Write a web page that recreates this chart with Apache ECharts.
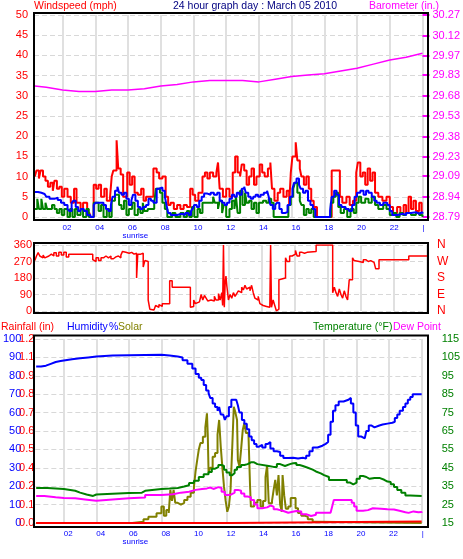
<!DOCTYPE html>
<html><head><meta charset="utf-8">
<script src="https://cdn.jsdelivr.net/npm/echarts@6/dist/echarts.min.js"></script>
<style>html,body{margin:0;padding:0;background:#fff}#c{width:463px;height:559px}</style>
</head><body><div id="c"></div>
<script>
// ---------- tick labels ----------
const hourTicks = [2,4,6,8,10,12,14,16,18,20,22,24];
const hourLabels = ['02','04','06','08','10','12','14','16','18','20','22','|'];
const baroTicks = [28.79,28.94,29.09,29.23,29.38,29.53,29.68,29.83,29.97,30.12,30.27];
const compassLabels = ['N','E','S','W','N'];
const rainTickValues = [0,0.12,0.24,0.36,0.48,0.6,0.72,0.84,0.96,1.08,1.2];
const rainLabels = ['0.0','0.1','0.2','0.4','0.5','0.6','0.7','0.8','0.9','1.1','1.2'];
const tempTicks = [15,25,35,45,55,65,75,85,95,105,115];
const sunriseHour = 6.45;

// ---------- data: [hour, value] ----------
const windGust = [[0.3,10],[0.4,11.5],[0.55,9.5],[0.65,11.5],[0.8,10],[0.95,9],[1.1,7.5],[1.25,8.5],[1.4,6.5],[1.5,9],[1.65,7],[1.8,7.5],[1.95,5],[2.1,7],[2.3,5],[2.5,3.5],[2.7,7],[2.85,3.5],[3.1,2],[3.25,3.5],[3.5,1],[3.65,0],[3.9,8],[4.05,7],[4.2,8],[4.35,5],[4.55,7],[4.7,4],[4.9,5],[5.0,10],[5.1,11.5],[5.3,19],[5.4,12],[5.55,10.5],[5.7,5],[5.95,11],[6.1,8],[6.25,10],[6.4,6],[6.6,5.5],[6.8,7],[6.95,4],[7.1,5],[7.35,5],[7.55,12],[7.75,11],[7.9,9.5],[8.1,10],[8.3,5],[8.45,3],[8.6,3.5],[8.8,2],[9.0,3],[9.2,2],[9.4,3],[9.6,2.5],[9.8,7],[9.95,5.5],[10.1,4],[10.3,6],[10.55,10],[10.7,11],[10.85,9.5],[11.0,11],[11.2,10],[11.4,11],[11.5,13.5],[11.6,7],[11.8,5],[12.0,7],[12.2,5],[12.4,11],[12.55,15],[12.7,11],[12.85,10],[12.95,13],[13.1,11.5],[13.25,8],[13.4,10],[13.55,12],[13.7,8],[13.85,10],[14.05,13],[14.2,11],[14.35,10],[14.55,12],[14.7,13.5],[14.8,7],[14.95,4],[15.15,6],[15.3,7],[15.5,5],[15.7,6.5],[15.85,3],[15.95,11],[16.05,15],[16.25,18.5],[16.35,14],[16.5,12],[16.6,10],[16.75,8],[16.9,10],[17.05,7],[17.2,4],[17.35,2.5],[17.55,0],[18.45,11.5],[18.95,5],[19.1,3.5],[19.35,5],[19.55,3],[19.75,4],[19.95,11],[20.05,13.5],[20.2,10],[20.35,11],[20.5,8],[20.65,12],[20.8,9],[20.95,11],[21.1,6],[21.3,5],[21.55,4],[21.8,5],[22.0,2.5],[22.2,1],[22.45,2.5],[22.65,1],[22.85,3],[23.0,1],[23.15,5],[23.3,2],[23.45,4],[23.6,1.5],[23.8,3.5],[23.95,1],[24,1]];
const windAvg = [[0.3,6.2],[0.5,6],[0.7,5.7],[0.9,5.5],[1.0,5],[1.2,4.5],[1.5,4.8],[1.7,4.2],[1.9,3.5],[2.1,3],[2.3,2],[2.4,1.5],[2.55,3.5],[2.65,4],[2.8,2.5],[2.95,1.5],[3.1,2],[3.3,1.5],[3.5,0.5],[3.7,0],[3.9,3],[4.0,3.5],[4.3,3.5],[4.5,3],[4.65,2],[4.8,1.5],[4.95,3],[5.05,5],[5.2,6.5],[5.35,7.5],[5.45,6],[5.6,5.5],[5.75,6],[5.9,4.5],[6.05,3],[6.2,4],[6.3,5.5],[6.45,4],[6.6,2.5],[6.75,2],[6.9,2.5],[7.1,3],[7.25,4.5],[7.4,4],[7.55,3.5],[7.75,7],[7.9,7.3],[8.1,6.5],[8.25,5],[8.35,3],[8.45,1],[8.6,0.5],[9.0,0.8],[9.3,0.5],[9.5,1],[9.7,0.5],[9.85,1.5],[9.95,2],[10.05,3],[10.2,2.5],[10.35,4],[10.5,5],[10.65,5.8],[10.85,5.5],[11.05,6],[11.25,5.5],[11.45,6],[11.6,4],[11.75,3.5],[11.9,3],[12.05,3.5],[12.2,4.5],[12.35,5.5],[12.5,5],[12.65,6],[12.8,5.5],[12.95,7],[13.1,7.5],[13.2,6],[13.35,5],[13.5,4.5],[13.65,5],[13.8,5.5],[13.95,5],[14.1,5.5],[14.3,6],[14.5,6.5],[14.6,5],[14.7,3],[14.85,2],[15.0,3],[15.1,3.5],[15.25,2],[15.4,1],[15.6,1.2],[15.75,3],[15.9,5],[16.05,7],[16.15,8.5],[16.3,9.5],[16.45,8],[16.55,7],[16.7,6],[16.85,6.5],[17.0,4],[17.15,3],[17.3,2],[17.45,0],[18.35,1.5],[18.45,5],[18.6,6.5],[18.75,5.5],[18.9,3],[19.05,2.5],[19.3,2],[19.5,1.5],[19.7,3],[19.85,5],[20.0,6],[20.2,6.5],[20.4,5.5],[20.55,6.5],[20.7,6],[20.9,5],[21.05,4],[21.2,3.5],[21.4,3],[21.6,3.5],[21.85,3],[22.0,1.5],[22.15,0.5],[22.5,0.8],[22.8,0.5],[23.0,1],[23.3,1.2],[23.6,0.8],[23.8,1.2],[24,0.8]];
const windSpeed = [[0.3,2],[0.45,4.5],[0.55,2],[0.7,4.5],[0.8,2],[0.95,3.5],[1.05,2],[1.35,3],[1.5,2],[1.65,1],[1.8,2],[1.95,0.5],[2.1,2],[2.3,0],[2.45,2],[2.6,0],[2.75,2],[2.9,0.5],[3.1,2],[3.25,0],[3.45,2],[3.6,0],[3.9,3.5],[4.2,1.5],[4.35,3],[4.5,0],[4.7,2],[4.85,0],[5.0,4],[5.2,5.5],[5.45,3],[5.6,2],[5.75,4],[5.9,0.5],[6.05,2],[6.25,3.5],[6.4,0.5],[6.6,2],[6.75,1],[6.9,3.5],[7.0,1.5],[7.2,2],[7.6,3.5],[7.7,7],[7.95,6],[8.1,3.5],[8.25,2],[8.4,0],[8.7,1],[8.9,0],[9.2,1],[9.4,0],[9.6,1.5],[9.75,0],[9.9,2.5],[10.05,0],[10.25,2],[10.4,1],[10.55,3.5],[11.2,5],[11.3,3.5],[11.5,2],[11.6,4],[11.75,1],[11.85,3],[12.0,0],[12.2,2],[12.35,4],[12.5,2],[12.6,5],[12.7,1],[12.85,6.5],[13.0,3],[13.15,6],[13.25,3.5],[13.4,4],[13.55,2],[13.7,3.5],[13.85,1],[14.0,3.5],[14.25,4],[14.45,3.5],[14.6,4.5],[14.75,3.5],[14.9,0],[15.8,3],[15.95,5],[16.1,7],[16.2,8.5],[16.35,6],[16.5,4],[16.6,3],[16.75,0.5],[16.9,2],[17.05,1],[17.2,2],[17.35,0],[18.4,3.5],[18.55,5],[18.7,6],[18.85,2.5],[19.0,1],[19.2,2],[19.4,0],[19.6,2],[19.8,1],[19.95,3.5],[20.1,5],[20.25,3.5],[20.5,4.5],[20.7,3.5],[20.9,5],[21.1,3],[21.3,2],[21.6,3],[21.8,2],[22.0,0.5],[22.2,1],[22.4,0],[22.6,1],[22.8,0.5],[23.0,1],[23.3,0.5],[23.6,1],[23.8,0.5],[24,0]];
const barometer = [[0.3,29.75],[1,29.74],[2,29.72],[3,29.71],[4,29.71],[5,29.72],[6,29.72],[7,29.73],[8,29.75],[9,29.76],[10,29.78],[11,29.79],[12,29.79],[13,29.79],[14,29.78],[15,29.80],[16,29.82],[17,29.83],[18,29.84],[19,29.86],[20,29.88],[21,29.91],[22,29.94],[23,29.96],[24,29.99]];
const windDir = [[0.3,275],[0.4,300],[0.5,318],[0.6,300],[0.7,290],[0.8,305],[0.9,290],[1.0,300],[1.15,310],[1.3,300],[1.45,318],[1.6,300],[1.75,320],[1.9,305],[2.05,320],[2.2,295],[2.35,310],[2.5,309],[3.8,280],[3.9,270],[4.0,290],[4.15,275],[4.3,290],[4.45,300],[4.6,290],[4.75,300],[4.9,285],[5.05,295],[5.2,300],[5.35,290],[5.5,305],[5.6,325],[5.7,320],[5.8,330],[5.9,315],[6.0,320],[6.15,310],[6.3,315],[6.45,180],[6.52,310],[6.7,315],[6.85,240],[6.95,275],[7.05,270],[7.15,60],[7.25,10],[7.35,5],[7.5,10],[7.6,30],[7.7,20],[7.8,35],[7.9,25],[8.0,40],[8.45,165],[8.6,130],[9.7,20],[9.8,25],[9.9,60],[10.0,40],[10.1,50],[10.25,55],[10.35,90],[10.45,60],[10.55,85],[10.65,70],[10.75,55],[10.85,60],[10.95,70],[11.05,55],[11.15,80],[11.25,60],[11.4,95],[11.5,60],[11.6,100],[11.65,30],[11.7,360],[11.75,20],[11.8,150],[11.85,190],[11.9,140],[12.0,60],[12.1,90],[12.2,70],[12.3,100],[12.4,80],[12.5,95],[12.6,110],[12.7,100],[12.8,130],[12.9,115],[13.0,140],[13.1,120],[13.2,130],[13.3,110],[13.4,140],[13.5,100],[13.6,70],[13.7,60],[13.8,80],[13.9,40],[14.0,30],[14.1,25],[14.3,20],[14.5,30],[14.55,360],[14.6,20],[14.7,60],[14.8,30],[14.9,0],[15.0,10],[15.05,170],[15.15,180],[15.45,290],[15.55,270],[15.7,300],[15.85,290],[15.95,310],[16.05,330],[16.15,300],[16.3,320],[16.45,315],[16.6,320],[16.75,325],[17.3,360],[18.3,100],[18.4,130],[18.5,100],[18.6,80],[18.7,120],[18.8,90],[18.9,70],[19.0,110],[19.1,80],[19.2,60],[19.3,170],[19.5,290],[19.6,275],[19.7,270],[19.9,275],[20.0,265],[20.15,280],[20.3,270],[20.45,275],[20.6,265],[20.8,270],[20.9,230],[21.1,280],[22.9,300],[24,300]];
const humidity = [[0.3,85],[0.6,85.5],[0.9,86.5],[1.2,87.5],[1.5,88],[1.8,88.5],[2.1,89],[2.5,89.5],[3.0,90],[3.5,90.5],[4.0,91],[5.0,91.5],[8.0,91],[8.5,90.5],[9.0,90],[9.3,88.5],[9.6,86.5],[9.9,84],[10.1,81],[10.3,79],[10.45,77.7],[10.6,75],[10.75,72],[10.9,70.6],[11.0,68],[11.15,65],[11.3,63],[11.45,61],[11.55,63],[11.65,59],[11.8,58],[11.9,56],[12.0,58],[12.15,63],[12.3,67],[12.6,67.5],[12.7,64],[12.8,60],[12.95,56],[13.1,54],[13.25,51],[13.4,47],[13.55,45],[13.7,43],[13.85,41.5],[14.0,42.5],[14.2,41],[14.4,43],[14.55,44],[14.7,40.5],[14.9,39],[15.1,38.6],[15.3,36.5],[15.5,35.3],[15.8,35.5],[16.1,35],[16.4,35.5],[16.7,35],[16.9,36.5],[17.1,39],[17.3,41],[17.6,42],[17.9,43],[18.1,44],[18.25,48],[18.4,55],[18.55,61],[18.7,64],[18.9,66],[19.2,67],[19.5,68],[19.65,65],[19.8,60],[19.95,53],[20.1,47],[20.3,46],[20.5,46],[20.6,50],[20.75,53],[20.9,52],[21.1,53],[21.4,53.5],[21.6,54],[21.9,54.5],[22.2,55],[22.35,57],[22.5,59],[22.65,61],[22.85,63],[23.0,65],[23.15,67],[23.3,68.5],[23.45,70],[24,70]];
const temperature = [[0.3,34],[1.0,33.5],[2.0,32.5],[2.7,31.5],[3.0,30.5],[3.4,29.7],[3.8,30.5],[4.0,31.3],[6.0,31.5],[6.8,32.5],[7.0,33.5],[8.0,33.7],[8.5,34],[9.0,34.8],[9.4,35.5],[9.7,36.7],[10.0,38],[10.3,40],[10.6,41.5],[10.9,42.7],[11.1,44.5],[11.3,45.4],[11.5,46.5],[11.7,46],[11.85,44],[12.0,42.5],[12.2,41],[12.35,42],[12.5,44],[12.65,45.4],[12.9,46.5],[13.1,47],[13.3,48],[13.5,48],[13.7,47],[13.9,46],[14.6,45.5],[14.9,45.4],[15.1,47],[15.3,46],[15.6,47],[15.9,47.5],[16.1,47.6],[16.3,46.5],[16.5,46],[16.7,45],[17.0,44],[17.3,43],[17.5,42],[17.8,41],[18.0,40],[18.3,38.4],[19.1,38.4],[19.4,37],[19.6,36],[19.8,37],[20.0,39],[20.2,40.5],[20.4,40],[20.6,39],[20.8,39.5],[21.1,39.5],[21.4,38.5],[21.7,37.5],[21.9,37.3],[22.1,36],[22.3,34.5],[22.5,33],[22.75,31.5],[23.0,30],[23.3,29.7],[24,29.7]];
const dewPoint = [[0.3,29.7],[0.8,29],[1.5,28.6],[2.0,28.4],[2.7,27.8],[3.3,27.1],[4.0,27.8],[5.0,28.4],[6.0,28.8],[7.0,30.2],[8.0,30.6],[8.7,31.5],[9.2,32],[9.7,33],[10.1,33.5],[10.5,33.8],[10.8,34.3],[11.0,33.5],[11.2,34.5],[11.5,34],[11.7,32],[11.9,30.2],[12.1,30.5],[12.3,31.5],[12.5,33],[12.7,32.5],[12.9,31],[13.1,29.4],[13.3,29],[13.5,27.5],[13.7,25],[13.9,23],[14.2,23.5],[14.5,24.5],[14.7,23.9],[14.9,22.5],[15.1,22],[15.3,21.5],[15.5,20.6],[15.8,21],[16.0,21.5],[16.3,21.3],[16.6,19.8],[16.9,18.8],[17.2,19.5],[17.5,20.6],[18.4,20.6],[18.5,24],[18.6,27.5],[19.5,27.5],[19.7,26],[19.85,24],[20.0,21.7],[20.4,22],[20.7,23],[21.0,22.8],[21.5,22.5],[21.9,22.3],[22.3,21.5],[22.7,20.8],[23.0,20.5],[23.2,21.3],[23.5,20.8],[23.8,21],[24,20.6]];
const solar = [[0.3,0],[5.9,0],[6.2,7],[6.9,20],[7.2,34],[7.7,53],[8.0,89],[8.15,40],[8.3,70],[8.45,55],[8.55,180],[8.65,120],[8.75,180],[8.85,110],[9.0,100],[9.2,109],[9.4,125],[9.6,143],[9.8,165],[10.0,197],[10.1,280],[10.2,342],[10.3,400],[10.4,435],[10.55,469],[10.7,520],[10.8,596],[10.85,480],[10.9,272],[11.0,300],[11.15,360],[11.3,380],[11.45,480],[11.55,560],[11.65,413],[11.75,300],[11.85,196],[11.95,120],[12.05,61],[12.15,90],[12.25,180],[12.35,400],[12.45,632],[12.55,600],[12.65,560],[12.7,342],[12.8,306],[12.9,400],[13.0,505],[13.1,543],[13.2,489],[13.35,496],[13.45,200],[13.5,89],[13.7,110],[13.9,125],[14.1,89],[14.25,120],[14.4,250],[14.5,315],[14.6,107],[14.8,120],[14.9,180],[15.0,234],[15.1,150],[15.2,261],[15.3,100],[15.4,61],[15.45,261],[15.55,150],[15.65,78],[15.8,90],[15.95,136],[16.25,80],[16.4,54],[16.6,40],[16.8,34],[17.0,20],[17.3,7],[17.5,0],[24,0]];
const rainfall = [[0.3,0],[12.3,0.01],[24,0.01]];

// ---------- chart ----------
const FONT = 'Liberation Sans';
const chart = echarts.init(document.getElementById('c'));
const grids = [
  {left:34, right:36, top:15, height:202},
  {left:34, right:36, top:245, height:66},
  {left:34, right:36, top:339, height:184}
];
function xAx(g, showLabels) {
  return {
    type:'value', gridIndex:g, min:0.25, max:24,
    axisLine:{show:false},
    axisTick:{show:false, customValues:hourTicks},
    axisLabel:{show:showLabels, customValues:hourTicks,
      formatter:v => hourLabels[hourTicks.indexOf(v)],
      color:'#0000ff', fontSize:8, fontFamily:FONT, align:'left', margin:7},
    splitLine:{show:true, lineStyle:{color:'#e0e0e0', width:2}}
  };
}
const dash = {color:'#d8d8d8', type:[5,3], width:1};
const lbl = (c, m) => ({color:c, fontSize:11, fontFamily:FONT, margin:m});
function line(x, y, data, color, width, step) {
  return {type:'line', xAxisIndex:x, yAxisIndex:y, data:data, step:step === false ? false : 'end',
    showSymbol:false, symbol:'none', lineStyle:{color:color, width:width}, itemStyle:{color:color},
    silent:true, animation:false};
}
const txt = (id, x, y, text, color, align) => ({type:'text', id:id, x:x, y:y, z:200,
  style:{text:text, fill:color, font:'10.5px "' + FONT + '"', textAlign:align || 'left', textVerticalAlign:'middle'}});
const frame = (id, y, h) => ({type:'rect', id:id, z:150, shape:{x:34, y:y, width:394, height:h},
  style:{fill:'none', stroke:'#000', lineWidth:2}});

chart.setOption({
  animation:false,
  backgroundColor:'#fff',
  grid:grids,
  xAxis:[xAx(0,true), xAx(1,false), xAx(2,true)],
  yAxis:[
    {gridIndex:0, type:'value', min:0, max:50, interval:5, position:'left',
      axisLine:{show:false}, axisTick:{show:false}, axisLabel:lbl('#ff0000',6), splitLine:{lineStyle:dash}},
    {gridIndex:0, type:'value', min:28.79, max:30.27, position:'right',
      axisLine:{show:false},
      axisTick:{show:true, customValues:baroTicks, length:7, lineStyle:{color:'#ff00ff', width:2}},
      axisLabel:Object.assign(lbl('#ff00ff',10), {customValues:baroTicks, formatter:v => v.toFixed(2)}),
      splitLine:{show:false}},
    {gridIndex:1, type:'value', min:0, max:360, interval:90, position:'left',
      axisLine:{show:false}, axisTick:{show:false}, axisLabel:lbl('#ff0000',2), splitLine:{lineStyle:dash}},
    {gridIndex:1, type:'value', min:0, max:360, interval:90, position:'right',
      axisLine:{show:false}, axisTick:{show:false},
      axisLabel:Object.assign(lbl('#ff0000',10), {fontSize:12, formatter:v => compassLabels[Math.round(v/90)]}),
      splitLine:{show:false}},
    {gridIndex:2, type:'value', min:0, max:100, interval:10, position:'left', offset:0,
      axisLine:{show:false}, axisTick:{show:false}, axisLabel:lbl('#0000ff',14), splitLine:{lineStyle:dash}},
    {gridIndex:2, type:'value', min:0, max:1.2, position:'left', offset:0,
      axisLine:{show:false}, axisTick:{show:false},
      axisLabel:Object.assign(lbl('#ff0000',1), {customValues:rainTickValues,
        formatter:v => rainLabels[rainTickValues.indexOf(v)]}),
      splitLine:{show:false}},
    {gridIndex:2, type:'value', min:15, max:115, position:'right', offset:0,
      axisLine:{show:false}, axisTick:{show:false},
      axisLabel:Object.assign(lbl('#008000',20), {customValues:tempTicks}),
      splitLine:{show:false}},
    {gridIndex:2, type:'value', min:0, max:1000, show:false, position:'right'}
  ],
  series:[
    line(0,1,barometer,'#ff00ff',1.5,false),
    line(0,0,windGust,'#ff0000',2),
    line(0,0,windSpeed,'#008000',2),
    line(0,0,windAvg,'#0000ff',2),
    line(1,2,windDir,'#ff0000',1.5),
    line(2,7,solar,'#808000',2),
    line(2,4,humidity,'#0000ff',2),
    line(2,6,temperature,'#008000',2),
    line(2,6,dewPoint,'#ff00ff',2),
    line(2,5,rainfall,'#ff0000',2)
  ],
  graphic:[
    frame('f1',13,207), frame('f2',243,70), frame('f3',335.5,191.5),
    txt('t1',34,6,'Windspeed (mph)','#ff0000'),
    txt('t2',255,6,'24 hour graph day : March 05 2010','#000080','center'),
    txt('t3',439,6,'Barometer (in.)','#ff00ff','right'),
    txt('t4',1,327,'Rainfall (in)','#ff0000'),
    txt('t5',67,327,'Humidity','#0000ff'),
    txt('t5b',109,327,'%','#0000ff'),
    txt('t6',118,327,'Solar','#808000'),
    txt('t7',313,327,'Temperature (°F)','#008000'),
    txt('t8',393,327,'Dew Point','#ff00ff')
  ]
});

const srx = chart.convertToPixel({xAxisIndex:0}, sunriseHour);
const sr = (id, y) => ({type:'text', id:id, x:srx, y:y, z:200,
  style:{text:'sunrise', fill:'#0000ff', font:'8px "' + FONT + '"', textAlign:'center', textVerticalAlign:'middle'}});
chart.setOption({graphic:[sr('s1',236), sr('s2',542)]});
</script></body></html>
